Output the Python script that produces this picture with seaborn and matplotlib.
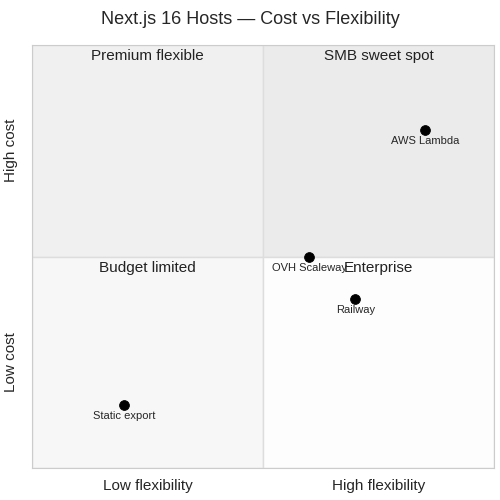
import matplotlib
matplotlib.use("Agg")
import matplotlib.pyplot as plt
import seaborn as sns
import pandas as pd

names = ["AWS Lambda", "OVH Scaleway", "Railway", "Static export"]
flex = [0.85, 0.60, 0.70, 0.20]
cost = [0.80, 0.50, 0.40, 0.15]
quadrants = ["Premium flexible", "SMB sweet spot", "Budget limited", "Enterprise"]

sns.set_style("white")
plt.rcParams['font.family'] = ['Liberation Sans', 'DejaVu Sans']
fig, ax = plt.subplots(figsize=(5, 5), dpi=100)
fig.subplots_adjust(left=0.064, right=0.988, top=0.91, bottom=0.064)
ax.set_xlim(0, 1); ax.set_ylim(0, 1)
cols = ["#f0f0f0", "#ebebeb", "#f7f7f7", "#fdfdfd"]
rects = [(0, 0.5), (0.5, 0.5), (0, 0), (0.5, 0)]
for (x0, y0), c, q in zip(rects, cols, quadrants):
    ax.add_patch(plt.Rectangle((x0, y0), 0.5, 0.5, facecolor=c, edgecolor="#dddddd", lw=1, zorder=0))
    ax.text(x0 + 0.25, y0 + 0.49, q, ha="center", va="top", fontsize=11, color="#222222")
df = pd.DataFrame({"flex": flex, "cost": cost, "name": names})
sns.scatterplot(data=df, x="flex", y="cost", color="black", s=50, ax=ax, zorder=3, edgecolor="black")
for n, x, y in zip(names, flex, cost):
    ax.text(x, y - 0.015, n, ha="center", va="top", fontsize=8, zorder=4)
ax.set_xticks([]); ax.set_yticks([])
ax.set_xlabel(""); ax.set_ylabel("")
for s in ax.spines.values():
    s.set_color("#cccccc")
ax.text(0.25, -0.025, "Low flexibility", ha="center", va="top", fontsize=11, transform=ax.transAxes)
ax.text(0.75, -0.025, "High flexibility", ha="center", va="top", fontsize=11, transform=ax.transAxes)
ax.text(-0.03, 0.25, "Low cost", ha="right", va="center", rotation=90, fontsize=11, transform=ax.transAxes)
ax.text(-0.03, 0.75, "High cost", ha="right", va="center", rotation=90, fontsize=11, transform=ax.transAxes)
fig.suptitle("Next.js 16 Hosts — Cost vs Flexibility", fontsize=13, y=0.977)
fig.savefig("out.png")
